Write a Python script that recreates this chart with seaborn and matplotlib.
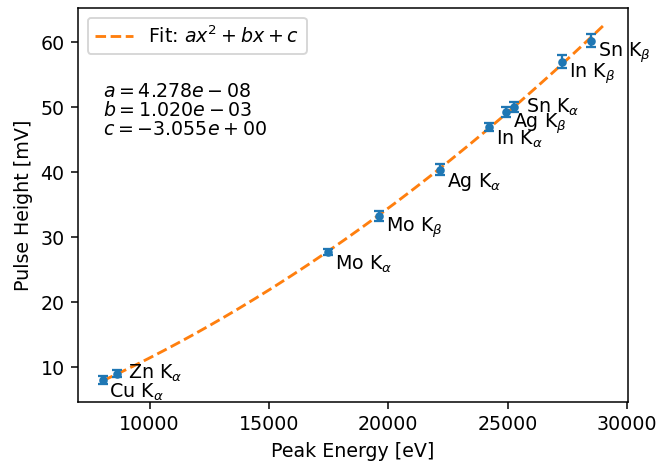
import numpy as np
import pandas as pd
import matplotlib
matplotlib.use("Agg")
import matplotlib.pyplot as plt
import seaborn as sns

labels = [r"Cu K$_\alpha$", r"Zn K$_\alpha$", r"Mo K$_\alpha$", r"Mo K$_\beta$", r"Ag K$_\alpha$",
          r"In K$_\alpha$", r"Ag K$_\beta$", r"Sn K$_\alpha$", r"In K$_\beta$", r"Sn K$_\beta$"]
energy = [8048, 8639, 17480, 19608, 22163, 24210, 24942, 25271, 27276, 28486]
height = [8.0, 9.0, 27.7, 33.3, 40.4, 46.9, 49.3, 50.0, 57.0, 60.2]
err = [0.6, 0.5, 0.5, 0.8, 0.9, 0.6, 0.8, 0.8, 1.0, 1.0]
label_dx = [250, 450, 300, 300, 300, 300, 300, 500, 300, 300]
label_dy = [-1.9, 0.0, -1.9, -1.9, -1.9, -1.9, -1.9, 0.0, -1.9, -1.9]

fit_a, fit_b, fit_c = 4.278e-08, 1.020e-03, -3.055e+00
fit_x = np.linspace(8048, 29000, 200)
fit_df = pd.DataFrame({"x": fit_x, "y": fit_a * fit_x**2 + fit_b * fit_x + fit_c})

DPI = 137
fig = plt.figure(figsize=(660 / DPI, 464 / DPI), dpi=DPI)
ax = fig.add_axes([78/660, 1 - 402/464, (628-78)/660, (402-8)/464])

sns.lineplot(data=fit_df, x="x", y="y", ax=ax, color="C1", linestyle="--",
             label=r"Fit: $ax^2+bx+c$", zorder=3)
ax.errorbar(energy, height, yerr=err, fmt="o", color="C0", markersize=3.5,
            capsize=2.5, elinewidth=1.2, capthick=1.2, zorder=4)

for x, y, t, dx, dy in zip(energy, height, labels, label_dx, label_dy):
    ax.text(x + dx, y + dy, t, va="center", ha="left", fontsize=10)

ax.text(0.045, 0.812,
        "$a = 4.278e-08$\n$b = 1.020e-03$\n$c = -3.055e+00$",
        transform=ax.transAxes, va="top", ha="left", fontsize=10, linespacing=1.0)

ax.legend(loc="upper left", fontsize=10)
ax.set_xlabel("Peak Energy [eV]", fontsize=10)
ax.set_ylabel("Pulse Height [mV]", fontsize=10)
ax.tick_params(labelsize=10)
ax.set_xticks([10000, 15000, 20000, 25000, 30000])

fig.savefig("out.png", dpi=DPI)
